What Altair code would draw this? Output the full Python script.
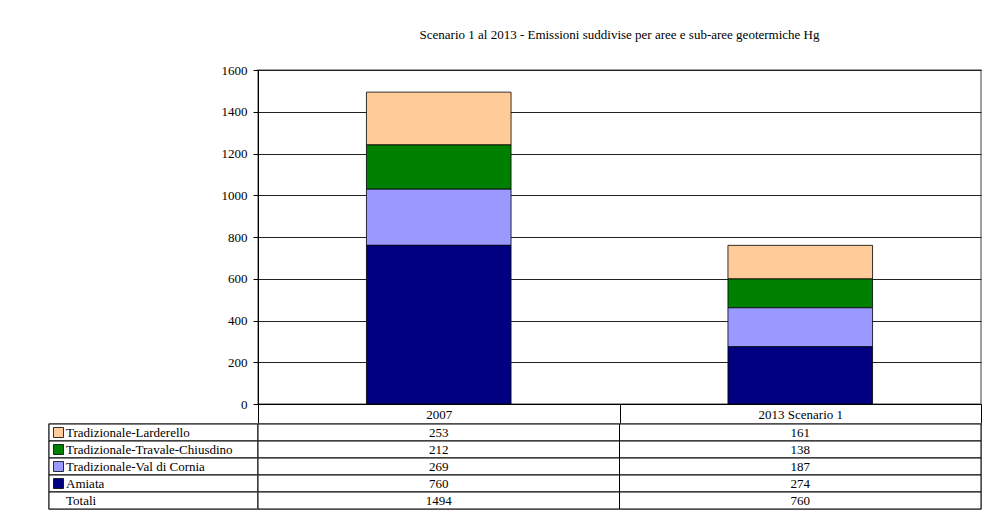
import altair as alt
import pandas as pd

# ---- data ----
categories = ["2007", "2013 Scenario 1"]
series = ["Tradizionale-Larderello", "Tradizionale-Travale-Chiusdino",
          "Tradizionale-Val di Cornia", "Amiata"]
larderello = [253, 161]
travale_chiusdino = [212, 138]
val_di_cornia = [269, 187]
amiata = [760, 274]
totali = [1494, 760]
colors = ["#FFCC99", "#008000", "#9999FF", "#000080"]
title_text = "Scenario 1 al 2013 - Emissioni suddivise per aree e sub-aree geotermiche Hg"

FONT = "Liberation Serif"
FS = 13

values_by_series = [larderello, travale_chiusdino, val_di_cornia, amiata]
bar_rows = []
for si, (s, vals) in enumerate(zip(series, values_by_series)):
    for c, v in zip(categories, vals):
        bar_rows.append({"category": c, "series": s, "value": v,
                         "stack_order": len(series) - si})
df_bars = pd.DataFrame(bar_rows)

row_names = series + ["Totali"]
df_rows = pd.DataFrame({"row": row_names,
                        "is_series": [True] * len(series) + [False]})

cell_rows = []
for s, vals in zip(row_names, values_by_series + [totali]):
    for c, v in zip(categories, vals):
        cell_rows.append({"category": c, "row": s, "txt": str(v)})
df_cells = pd.DataFrame(cell_rows)

color_scale = alt.Scale(domain=series, range=colors)
x_scale = alt.Scale(domain=categories, paddingInner=0, paddingOuter=0)
row_scale = alt.Scale(domain=row_names, paddingInner=0, paddingOuter=0)

PW, PH = 723, 334
LW, TH = 209, 85

# ---- bar chart ----
bars = alt.Chart(df_bars).mark_bar(
    stroke="black", strokeWidth=0.8, width=alt.RelativeBandSize(0.4)
).encode(
    x=alt.X("category:N", scale=x_scale, sort=categories,
            axis=alt.Axis(title=None, labelAngle=0, tickBand="extent",
                          tickSize=20, tickColor="black", domainColor="black",
                          labelPadding=-16, labelFont=FONT, labelFontSize=FS,
                          labelColor="black", grid=False)),
    y=alt.Y("value:Q", stack="zero", scale=alt.Scale(domain=[0, 1600]),
            axis=alt.Axis(title=None, values=list(range(0, 1601, 200)), format="d",
                          grid=True, gridColor="#222222", gridOpacity=1,
                          tickSize=5, tickColor="black", domainColor="black",
                          labelPadding=6, labelFont=FONT, labelFontSize=FS,
                          labelColor="black")),
    color=alt.Color("series:N", scale=color_scale, legend=None),
    order=alt.Order("stack_order:Q"),
).properties(
    width=PW, height=PH,
    title=alt.TitleParams(title_text, font=FONT, fontSize=13, fontWeight="normal",
                          color="black", anchor="middle", offset=22),
)

spacer = alt.Chart(pd.DataFrame({"a": [0]})).mark_text().encode(
    text=alt.value("")
).properties(width=LW, height=PH, view=alt.ViewBackground(stroke="transparent"))

# ---- table label column ----
lab_cells = alt.Chart(df_rows).mark_rect(fill="white", stroke="black", strokeWidth=1).encode(
    y=alt.Y("row:N", scale=row_scale, sort=row_names, axis=None)
)
lab_squares = alt.Chart(df_rows).transform_filter("datum.is_series").mark_square(
    size=100, stroke="black", strokeWidth=0.8, opacity=1
).encode(
    y=alt.Y("row:N", scale=row_scale, sort=row_names, axis=None),
    x=alt.value(9.5),
    color=alt.Color("row:N", scale=color_scale, legend=None),
)
lab_text = alt.Chart(df_rows).mark_text(
    align="left", font=FONT, fontSize=FS, color="black"
).encode(
    y=alt.Y("row:N", scale=row_scale, sort=row_names, axis=None),
    x=alt.value(17),
    text="row:N",
)
labels = alt.layer(lab_cells, lab_squares, lab_text).properties(width=LW, height=TH)

# ---- table values ----
val_cells = alt.Chart(df_cells).mark_rect(fill="white", stroke="black", strokeWidth=1).encode(
    x=alt.X("category:N", scale=x_scale, sort=categories, axis=None),
    y=alt.Y("row:N", scale=row_scale, sort=row_names, axis=None),
)
val_text = alt.Chart(df_cells).mark_text(
    align="center", font=FONT, fontSize=FS, color="black"
).encode(
    x=alt.X("category:N", scale=x_scale, sort=categories, axis=None),
    y=alt.Y("row:N", scale=row_scale, sort=row_names, axis=None),
    text="txt:N",
)
values = alt.layer(val_cells, val_text).properties(width=PW, height=TH)

chart = alt.concat(
    spacer, bars, labels, values, columns=2,
    spacing={"row": 20, "column": 0}, bounds="flush",
).properties(
    padding={"left": 47, "top": 28, "right": 5, "bottom": 5},
    background="white",
).configure(font=FONT).configure_view(stroke="#808080", strokeWidth=1.5)

chart.save("out.html", embed_options={"renderer": "svg", "actions": False})
